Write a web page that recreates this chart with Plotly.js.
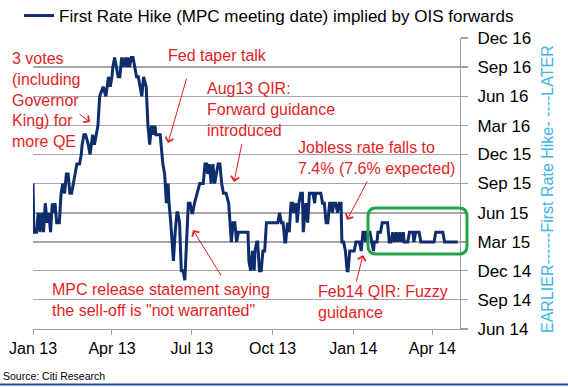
<!DOCTYPE html>
<html>
<head>
<meta charset="utf-8">
<script src="https://cdn.plot.ly/plotly-3.0.1.min.js"></script>
<style>html,body{margin:0;padding:0;background:#fff;}#chart{width:568px;height:387px;}</style>
</head>
<body>
<div id="chart"></div>
<script>
// ---- data ----
const seriesName = 'First Rate Hike (MPC meeting date) implied by OIS forwards';
const dates = [
'2013-01-01','2013-01-02','2013-01-05','2013-01-07','2013-01-09','2013-01-11','2013-01-13','2013-01-15','2013-01-17','2013-01-19','2013-01-21','2013-01-23','2013-01-25','2013-01-26','2013-01-28','2013-01-31',
'2013-02-02','2013-02-04','2013-02-06','2013-02-08','2013-02-10','2013-02-12','2013-02-14','2013-02-16','2013-02-18','2013-02-20','2013-02-23','2013-02-25','2013-02-26','2013-02-28',
'2013-03-02','2013-03-05','2013-03-07','2013-03-10','2013-03-12','2013-03-14','2013-03-16','2013-03-18','2013-03-22','2013-03-25','2013-03-28','2013-03-30',
'2013-04-01','2013-04-02','2013-04-04','2013-04-06','2013-04-08','2013-04-10','2013-04-12','2013-04-14','2013-04-16','2013-04-18','2013-04-19','2013-04-21','2013-04-23','2013-04-25','2013-04-27','2013-04-29',
'2013-05-01','2013-05-03','2013-05-05','2013-05-07','2013-05-10','2013-05-11','2013-05-12','2013-05-14','2013-05-16','2013-05-18','2013-05-20','2013-05-21','2013-05-24','2013-05-26','2013-05-28','2013-05-29','2013-05-31',
'2013-06-02','2013-06-04','2013-06-05','2013-06-07','2013-06-10','2013-06-12','2013-06-14','2013-06-15','2013-06-17','2013-06-19','2013-06-21','2013-06-23','2013-06-25','2013-06-27','2013-06-29',
'2013-07-01','2013-07-02','2013-07-04','2013-07-07','2013-07-10','2013-07-12','2013-07-14','2013-07-16','2013-07-18','2013-07-19','2013-07-21','2013-07-23','2013-07-25','2013-07-27','2013-07-29','2013-07-31',
'2013-08-02','2013-08-04','2013-08-06','2013-08-09','2013-08-12','2013-08-14','2013-08-15','2013-08-17','2013-08-19','2013-08-21','2013-08-23','2013-08-25','2013-08-27',
'2013-09-03','2013-09-04','2013-09-06','2013-09-08','2013-09-10','2013-09-11','2013-09-13','2013-09-14','2013-09-16','2013-09-18','2013-09-20','2013-09-22','2013-09-24','2013-09-27',
'2013-10-05','2013-10-07','2013-10-09','2013-10-11','2013-10-13','2013-10-15','2013-10-16','2013-10-18','2013-10-20','2013-10-22','2013-10-24','2013-10-25','2013-10-28','2013-10-29','2013-10-31',
'2013-11-02','2013-11-04','2013-11-05','2013-11-07','2013-11-08','2013-11-10','2013-11-12','2013-11-14','2013-11-16','2013-11-18','2013-11-19','2013-11-21','2013-11-24','2013-11-25','2013-11-27','2013-11-29',
'2013-12-01','2013-12-03','2013-12-05','2013-12-07','2013-12-08','2013-12-10','2013-12-12','2013-12-14','2013-12-16','2013-12-18','2013-12-19','2013-12-21','2013-12-23','2013-12-25','2013-12-26','2013-12-28','2013-12-30','2013-12-31',
'2014-01-02','2014-01-04','2014-01-06','2014-01-08','2014-01-10','2014-01-12','2014-01-14','2014-01-15','2014-01-17','2014-01-20','2014-01-22','2014-01-24','2014-01-25','2014-01-28','2014-01-29',
'2014-02-01','2014-02-03','2014-02-07','2014-02-09','2014-02-11','2014-02-13','2014-02-15','2014-02-17','2014-02-19','2014-02-21','2014-02-23','2014-02-25','2014-02-27','2014-02-28',
'2014-03-04','2014-03-06','2014-03-10','2014-03-11','2014-03-13','2014-03-17','2014-03-19',
'2014-04-03','2014-04-05','2014-04-13','2014-04-15','2014-04-30'
];
// implied month of the first rate hike (MPC meeting month)
const firstHike = [
'2015-09','2015-04','2015-04','2015-06','2015-04','2015-06','2015-04','2015-07','2015-05','2015-06','2015-04','2015-07','2015-06','2015-07','2015-05','2015-05',
'2015-08','2015-09','2015-08','2015-10','2015-10','2015-08','2015-08','2015-09','2015-10','2015-11','2015-11','2015-12','2016-01','2016-02',
'2016-02','2016-01','2015-12','2016-02','2016-01','2016-02','2016-03','2016-06','2016-07','2016-06','2016-08','2016-07',
'2016-08','2016-09','2016-10','2016-09','2016-08','2016-08','2016-10','2016-09','2016-10','2016-09','2016-10','2016-09','2016-10','2016-10','2016-09','2016-08',
'2016-08','2016-07','2016-06','2016-08','2016-07','2016-05','2016-03','2016-01','2016-03','2016-02','2016-03','2016-02','2016-02','2016-02','2015-12','2015-11','2015-10',
'2015-07','2015-09','2015-07','2015-05','2015-01','2015-04','2015-06','2015-06','2015-05','2014-12','2014-12','2014-11','2015-04','2015-07','2015-07',
'2015-06','2015-06','2015-07','2015-08','2015-09','2015-09','2015-09','2015-11','2015-11','2015-10','2015-11','2015-09','2015-11','2015-09','2015-10','2015-11',
'2015-11','2015-09','2015-08','2015-08','2015-07','2015-04','2015-03','2015-05','2015-05','2015-03','2015-04','2015-04','2015-04',
'2015-04','2015-01','2014-12','2015-02','2014-12','2015-02','2015-03','2015-03','2014-12','2014-12','2015-02','2015-02','2015-05','2015-05',
'2015-05','2015-05','2015-06','2015-05','2015-05','2015-03','2015-03','2015-05','2015-04','2015-07','2015-07','2015-06','2015-07','2015-05','2015-07',
'2015-08','2015-08','2015-04','2015-06','2015-07','2015-05','2015-08','2015-08','2015-08','2015-07','2015-08','2015-08','2015-08','2015-08','2015-07','2015-07',
'2015-05','2015-05','2015-07','2015-07','2015-06','2015-07','2015-07','2015-06','2015-07','2015-07','2015-03','2015-03','2015-02','2014-12','2014-12','2015-02','2015-02','2015-02',
'2015-02','2015-03','2015-03','2015-03','2015-02','2015-04','2015-04','2015-03','2015-04','2015-04','2015-03','2015-02','2015-03','2015-03','2015-04',
'2015-04','2015-05','2015-05','2015-05','2015-03','2015-03','2015-04','2015-03','2015-04','2015-03','2015-04','2015-03','2015-04','2015-03',
'2015-03','2015-04','2015-04','2015-03','2015-04','2015-04','2015-03',
'2015-03','2015-04','2015-04','2015-03','2015-03'
];
const xTickVals = ['2013-01-01','2013-04-01','2013-07-01','2013-10-01','2014-01-01','2014-04-01'];
const xTickText = ['Jan 13','Apr 13','Jul 13','Oct 13','Jan 14','Apr 14'];
const yTickVals = ['2014-06-01','2014-09-01','2014-12-01','2015-03-01','2015-06-01','2015-09-01','2015-12-01','2016-03-01','2016-06-01','2016-09-01','2016-12-01'];
const yTickText = ['Jun 14','Sep 14','Dec 14','Mar 15','Jun 15','Sep 15','Dec 15','Mar 16','Jun 16','Sep 16','Dec 16'];
const notes = [
  '3 votes<br>(including<br>Governor<br>King) for<br>more QE',
  'Fed taper talk',
  'Aug13 QIR:<br>Forward guidance<br>introduced',
  'Jobless rate falls to<br>7.4% (7.6% expected)',
  'Feb14 QIR: Fuzzy<br>guidance',
  'MPC release statement saying<br>the sell-off is "not warranted"'
];
const axisTitle = 'EARLIER------First Rate Hike- ----LATER';
const sourceText = 'Source: Citi Research';

// ---- layout geometry (pixels -> paper) ----
const W = 568, H = 387, ML = 33, MR = 108, MT = 38, MB = 58;
const PW = W - ML - MR, PH = H - MT - MB;
const px = x => (x - ML) / PW;
const py = y => (H - MB - y) / PH;

const RED = '#E31E24';
const FONT = 'Liberation Sans, Arial, sans-serif';

function textNote(t, left, cy) {
  return {text: t, xref: 'paper', yref: 'paper', x: px(left), y: py(cy), xanchor: 'left', yanchor: 'middle',
    align: 'left', showarrow: false, font: {family: FONT, size: 16, color: RED}};
}
function arrow(hx, hy, tx, ty) {
  return {text: '', xref: 'paper', yref: 'paper', x: px(hx), y: py(hy), ax: tx - hx, ay: ty - hy,
    axref: 'pixel', ayref: 'pixel', showarrow: true, arrowhead: 4, arrowsize: 1.6, arrowwidth: 1, arrowcolor: RED, standoff: 0, startstandoff: 0};
}

const annotations = [
  textNote(notes[0], 10, 100),
  textNote(notes[1], 166, 55),
  textNote(notes[2], 205, 109),
  textNote(notes[3], 296, 157.5),
  textNote(notes[4], 316, 301.5),
  textNote(notes[5], 50, 299.5),
  arrow(90, 122, 78, 113),
  arrow(168, 143, 187, 77),
  arrow(234, 182, 242, 143),
  arrow(347, 220, 368, 180),
  arrow(363, 255, 356, 283),
  arrow(193, 230, 222, 277),
  {text: axisTitle, xref: 'paper', yref: 'paper', x: px(548), y: py(189), textangle: -90, showarrow: false,
   xanchor: 'center', yanchor: 'middle', font: {family: FONT, size: 16, color: '#41B4E6'}},
  {text: sourceText, xref: 'paper', yref: 'paper', x: px(1), y: py(376), xanchor: 'left', yanchor: 'middle', showarrow: false,
   font: {family: FONT, size: 10.5, color: '#000'}}
];

// green rounded box
const bx0 = 368, bx1 = 467, by0 = 208, by1 = 254, r = 8;
const P = (x, y) => px(x).toFixed(5) + ',' + py(y).toFixed(5);
const boxPath = 'M' + P(bx0 + r, by0) + ' L' + P(bx1 - r, by0) + ' Q' + P(bx1, by0) + ' ' + P(bx1, by0 + r) +
  ' L' + P(bx1, by1 - r) + ' Q' + P(bx1, by1) + ' ' + P(bx1 - r, by1) + ' L' + P(bx0 + r, by1) +
  ' Q' + P(bx0, by1) + ' ' + P(bx0, by1 - r) + ' L' + P(bx0, by0 + r) + ' Q' + P(bx0, by0) + ' ' + P(bx0 + r, by0) + ' Z';

const shapes = [
  {type: 'path', xref: 'paper', yref: 'paper', path: boxPath, line: {color: '#22A34A', width: 3}},
  {type: 'line', xref: 'paper', yref: 'paper', x0: px(0), x1: px(568), y0: py(384.5), y1: py(384.5), line: {color: '#1F4E9A', width: 2}}
];

const trace = {
  x: dates, y: firstHike, type: 'scatter', mode: 'lines', name: seriesName,
  line: {color: '#0E2D6D', width: 3}
};

const layout = {
  width: W, height: H,
  margin: {l: ML, r: MR, t: MT, b: MB, pad: 0},
  paper_bgcolor: '#fff', plot_bgcolor: '#fff',
  font: {family: FONT, size: 16, color: '#000'},
  showlegend: true,
  legend: {orientation: 'h', xref: 'container', yref: 'container', x: 19 / W, y: 1 - 16 / H, xanchor: 'left', yanchor: 'middle',
    font: {family: FONT, size: 17, color: '#000'}, bgcolor: 'rgba(0,0,0,0)', borderwidth: 0},
  xaxis: {type: 'date', range: ['2013-01-01', '2014-05-02 14:00'], tickvals: xTickVals, ticktext: xTickText,
    ticks: 'outside', ticklen: 5, tickcolor: '#A0A0A0', tickwidth: 1, showgrid: false, zeroline: false,
    showline: true, linecolor: '#A0A0A0', linewidth: 1, tickfont: {family: FONT, size: 16, color: '#000'}},
  yaxis: {type: 'date', side: 'right', range: ['2014-06-01', '2016-12-01'], tickvals: yTickVals, ticktext: yTickText,
    ticks: 'outside', ticklen: 7, tickcolor: '#A0A0A0', tickwidth: 1.5, showgrid: true, gridcolor: '#A6A6A6', gridwidth: 1.5,
    ticklabelstandoff: 6,
    zeroline: false, showline: true, linecolor: '#A0A0A0', linewidth: 1, tickfont: {family: FONT, size: 17, color: '#000'}},
  annotations: annotations,
  shapes: shapes
};

Plotly.newPlot('chart', [trace], layout, {displayModeBar: false, staticPlot: true});
</script>
</body>
</html>
